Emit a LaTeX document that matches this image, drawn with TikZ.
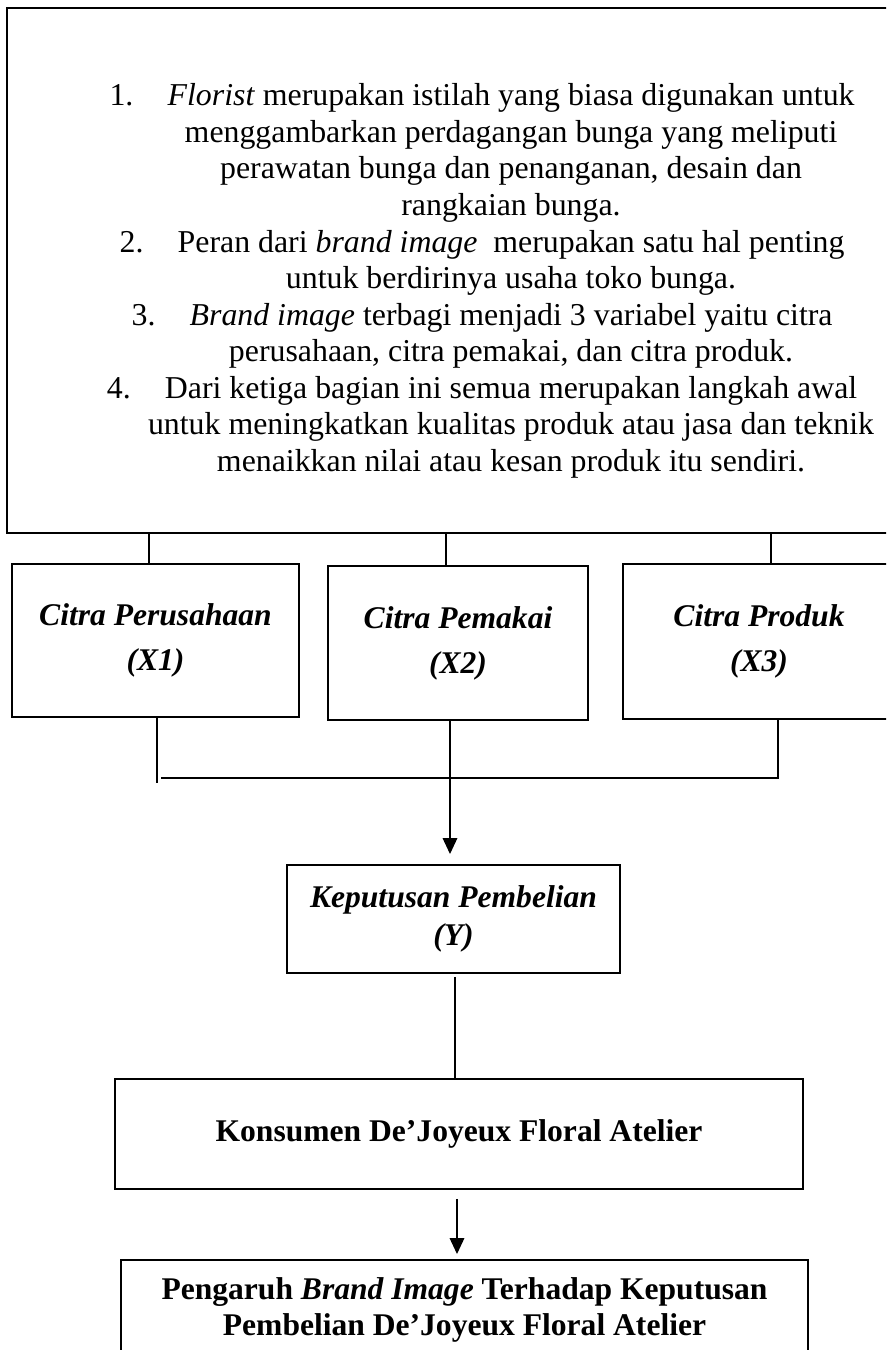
\documentclass[tikz,border=0pt]{standalone}
\usepackage{fontspec}
\setmainfont{Liberation Serif}
\usetikzlibrary{arrows.meta}
\newcommand{\upx}{0.38pt}

\begin{document}
\begin{tikzpicture}[x=\upx, y=-\upx,
        kotak/.style={draw, line width=0.75pt, inner sep=0pt, align=center},
        garis/.style={line width=0.5pt},
        panah/.style={line width=0.5pt, -{Triangle[width=5.5pt, length=6pt]}}]
        \useasboundingbox (0,0) rectangle (886,1350);
        \clip (0,0) rectangle (886,1350);
        \node[kotak, minimum width=898*\upx, minimum height=525*\upx] (atas) at (456,270.5) {};
        \node[align=center, inner sep=0pt, font=\fontsize{12.1}{13.9}\selectfont] (daftar) at (511,281)
            {\hspace*{-22pt}1.\hspace{13pt}\textit{Florist} merupakan istilah yang biasa digunakan untuk\\
             menggambarkan perdagangan bunga yang meliputi\\
             perawatan bunga dan penanganan, desain dan\\
             rangkaian bunga.\\
             \hspace*{-22pt}2.\hspace{13pt}Peran dari \textit{brand image}\ \ merupakan satu hal penting\\
             untuk berdirinya usaha toko bunga.\\
             \hspace*{-22pt}3.\hspace{13pt}\textit{Brand image} terbagi menjadi 3 variabel yaitu citra\\
             perusahaan, citra pemakai, dan citra produk.\\
             \hspace*{-22pt}4.\hspace{13pt}Dari ketiga bagian ini semua merupakan langkah awal\\
             untuk meningkatkan kualitas produk atau jasa dan teknik\\
             menaikkan nilai atau kesan produk itu sendiri.};
        \node[kotak, minimum width=287*\upx, minimum height=153*\upx, font=\fontsize{12}{17.1}\selectfont\bfseries\itshape] (X1) at (155.5,640.5) {Citra Perusahaan\\(X1)};
        \node[kotak, minimum width=260*\upx, minimum height=154*\upx, font=\fontsize{12}{17.1}\selectfont\bfseries\itshape] (X2) at (458,643) {Citra Pemakai\\(X2)};
        \node[kotak, minimum width=272*\upx, minimum height=155*\upx, font=\fontsize{12}{17.1}\selectfont\bfseries\itshape] (X3) at (759,641.5) {Citra Produk\\(X3)};
        \node[kotak, minimum width=333*\upx, minimum height=108*\upx, font=\fontsize{12}{14.4}\selectfont\bfseries\itshape] (Y) at (453.5,919) {Keputusan Pembelian\\(Y)};
        \node[kotak, minimum width=688*\upx, minimum height=110*\upx, font=\fontsize{12}{13.8}\selectfont\bfseries] (kons) at (459,1134) {Konsumen De’Joyeux Floral Atelier};
        \node[kotak, minimum width=687*\upx, minimum height=100*\upx, font=\fontsize{12}{13.8}\selectfont\bfseries] (judul) at (464.5,1310)
            {Pengaruh \textit{Brand Image} Terhadap Keputusan\\Pembelian De’Joyeux Floral Atelier};
        \coordinate (c1) at (149,0);
        \coordinate (c2) at (446,0);
        \coordinate (c3) at (771,0);
        \foreach \i in {1,2,3}
            \draw[garis] (atas.south -| c\i) -- (X\i.north -| c\i);
        \coordinate (g1) at (157,783);
        \coordinate (h1) at (161,778);
        \coordinate (h3) at (778,778);
        \coordinate (d2) at (450,0);
        \coordinate (e1) at (455,0);
        \coordinate (e2) at (457,0);
        \draw[garis] (X1.south -| g1) -- (g1);
        \draw[garis] (X3.south -| h3) -- (h3) -- (h1);
        \draw[panah, shorten >=3.8pt] (X2.south -| d2) -- (Y.north -| d2);
        \draw[garis, shorten <=1.1pt] (Y.south -| e1) -- (kons.north -| e1);
        \draw[panah, shorten <=3.4pt, shorten >=1.9pt] (kons.south -| e2) -- (judul.north -| e2);
    \end{tikzpicture}
\end{document}
